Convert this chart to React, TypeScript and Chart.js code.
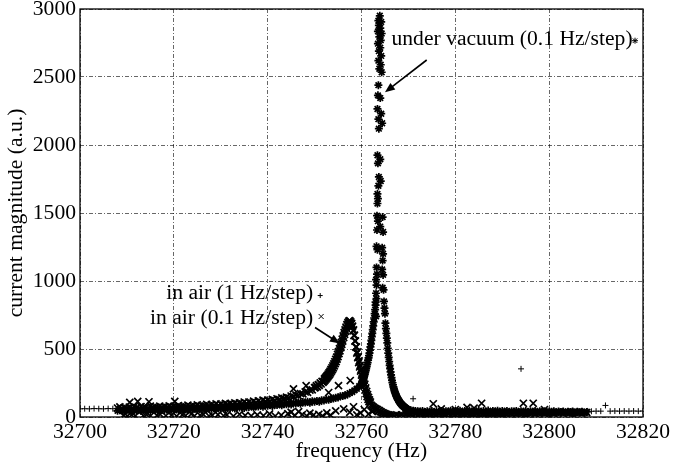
import React, { useEffect, useRef } from "react";
import { Chart, registerables } from "chart.js";

Chart.register(...registerables);

// ---- axis ticks ----
const xTicks = [32700, 32720, 32740, 32760, 32780, 32800, 32820];
const yTicks = [0, 500, 1000, 1500, 2000, 2500, 3000];

// ---- in air, 1 Hz/step (+) : 32700 .. 32820 ----
const air1Start = 32700;
const air1Step = 1;
const air1Values = [
  60, 61, 60, 62, 61, 60, 62, 61, 63, 64,
  66, 67, 68, 68, 69, 70, 71, 72, 73, 75,
  76, 77, 79, 80, 81, 83, 84, 86, 88, 89,
  91, 93, 95, 98, 100, 103, 106, 109, 112, 115,
  119, 124, 128, 134, 140, 148, 158, 170, 185, 200,
  218, 242, 270, 308, 365, 450, 570, 675, 672, 482,
  318, 182, 92, 57, 36, 21, 12, 13, 14, 15,
  16, 134, 17, 18, 18, 19, 19, 20, 20, 21,
  21, 22, 22, 23, 23, 24, 24, 25, 25, 26,
  26, 27, 27, 28, 354, 28, 29, 29, 30, 30,
  31, 32, 33, 34, 36, 37, 38, 39, 41, 42,
  43, 43, 85, 43, 44, 43, 44, 43, 44, 43,
  44,
];

// ---- in air, 0.1 Hz/step (x) ----
const airLeftStart = 32708;
const airLeftStep = 0.5;
const airLeftValues = [
  66, 74, 58, 70, 64, 72, 60, 75,
  69, 62, 77, 66, 72, 64, 79, 68,
  74, 66, 80, 70, 76, 68, 82, 72,
  78, 70, 84, 74, 80, 73, 87, 77,
  82, 75, 89, 79, 86, 78, 92, 82,
  90, 82, 96, 86, 94, 86, 100, 90,
  98, 91, 104, 95, 104, 96, 110, 100,
  110, 102, 116, 106, 118, 110, 124, 114,
  124, 117, 130, 123, 134, 128, 141, 136,
  146, 140, 154, 150, 162, 158, 172, 170,
  184, 182, 198, 200, 215,
];
const airRiseStart = 32750.2;
const airRiseStep = 0.2;
const airRiseValues = [218, 230, 222, 238, 233, 250, 243, 262, 255];
const airPeakStart = 32752.0;
const airPeakStep = 0.1;
const airPeakValues = [
  262, 280, 270, 288, 278, 296, 286, 306, 295, 316,
  304, 326, 314, 337, 325, 350, 337, 362, 349, 376,
  361, 390, 376, 406, 392, 423, 408, 440, 426, 460,
  444, 480, 466, 502, 487, 524, 510, 548, 534, 572,
  558, 596, 584, 620, 608, 640, 630, 660, 652, 680,
  672, 694, 684, 705, 692, 708, 690, 700, 680, 688,
  662, 668, 634, 640, 598, 602, 558, 560, 514, 516,
  470, 478, 436, 444, 400, 412, 368, 380, 338, 350,
  308, 322, 282, 296, 255, 270, 228, 242, 200, 214,
  172, 188, 150, 164, 130, 144, 114, 126, 100, 110,
  88,
];
const airDropStart = 32762.2;
const airDropStep = 0.2;
const airDropValues = [81, 75, 70, 63, 62, 56, 55, 47, 47, 39, 38, 31, 30, 24, 24, 18, 19, 14, 15, 12];
const airRightStart = 32766.5;
const airRightStep = 0.5;
const airRightValues = [
  12, 8, 16, 10, 15, 9, 17, 12,
  16, 10, 19, 13, 18, 12, 21, 15,
  19, 13, 22, 16, 21, 15, 24, 18,
  22, 16, 25, 19, 24, 18, 27, 21,
  25, 19, 28, 22, 26, 20, 29, 23,
  27, 21, 30, 24, 28, 22, 31, 25,
  29, 23, 32, 26, 30, 24, 33, 27,
  31, 25, 34, 28, 32, 26, 34, 29,
  32, 27, 35, 30, 33, 28, 36, 31,
  34, 29, 37, 31, 35, 30, 37, 32,
  35, 30, 37, 33,
];
// scattered readings of the same sweep (x markers off the main band)
const airScatterFreq = [
  32709.3, 32710.1, 32711.0, 32711.8, 32713.5, 32714.2, 32715.0, 32716.4, 32717.1, 32718.3,
  32719.5, 32720.6, 32721.8, 32722.5, 32723.7, 32724.4, 32725.6, 32726.3, 32727.5, 32728.2,
  32729.4, 32730.6, 32731.3, 32732.7, 32734.0, 32735.2, 32736.5, 32737.8, 32739.1, 32740.4,
  32741.6, 32742.9, 32744.3, 32745.0, 32745.8, 32746.6, 32747.4, 32748.3, 32749.0, 32749.8,
  32750.9, 32751.7, 32752.6, 32753.4, 32754.5, 32756.2, 32757.5, 32758.3, 32759.0, 32759.8,
  32760.6, 32761.5, 32762.3,
  32710.6, 32712.3, 32714.7, 32720.2, 32745.5, 32748.2, 32755.1, 32757.6, 32753.0,
  32770.5, 32775.3, 32777.0, 32780.0, 32782.5, 32785.6, 32784.0, 32794.5, 32796.6, 32799.0,
  32790.0, 32795.0, 32800.2, 32805.0,
];
const airScatterValues = [
  12, 6, 15, 8, 10, 18, 7, 12, 20, 9,
  14, 6, 16, 10, 22, 8, 13, 19, 7, 12,
  17, 9, 15, 6, 20, 11, 8, 16, 10, 22,
  7, 14, 25, 35, 12, 40, 18, 9, 28, 15,
  20, 8, 30, 14, 45, 60, 35, 75, 15, 30,
  55, 22, 40,
  108, 114, 112, 114, 207, 230, 231, 268, 180,
  45, 97, 60, 55, 70, 101, 65, 101, 101, 55,
  3, 5, 2, 4,
];

// ---- under vacuum, 0.1 Hz/step (*) ----
const vacLeftStart = 32708;
const vacLeftStep = 0.5;
const vacLeftValues = [
  46, 54, 42, 50, 47, 55, 43, 52,
  48, 56, 44, 53, 49, 57, 45, 54,
  50, 58, 46, 55, 51, 59, 47, 56,
  53, 60, 49, 58, 54, 62, 50, 60,
  56, 64, 52, 62, 58, 66, 54, 64,
  60, 68, 56, 67, 63, 71, 59, 70,
  66, 74, 62, 73, 70, 78, 66, 78,
  74, 82, 70, 82, 78, 86, 75, 86,
  82, 90, 80, 92, 88, 96, 86, 98,
  94, 102, 92, 104, 100, 107, 98, 110,
  106, 112, 104, 116, 112, 118, 112, 124,
  122, 128, 126, 134, 136, 142, 144, 152,
  154, 160, 166, 176, 184, 196, 208, 226,
  245,
];
const vacRiseStart = 32760.1;
const vacRiseStep = 0.1;
const vacRiseValues = [
  252, 262, 270, 281, 290, 303, 314, 328, 340, 356,
  370, 386, 400, 418, 435, 452, 470, 492, 515, 538,
  563, 590, 615, 642, 670, 700, 728, 760, 790, 822,
];
const vacSpikeFreq = [
  32763.6, 32763.9, 32764.2, 32763.7, 32764.0, 32763.5, 32764.3, 32763.8, 32764.1,
  32763.5, 32764.0, 32763.7, 32764.2, 32763.6, 32764.1, 32763.8, 32764.3,
  32763.6, 32763.5, 32764.0,
  32763.4, 32764.2, 32763.6, 32764.4, 32763.7,
  32763.4, 32764.0, 32763.5,
  32763.7, 32764.1, 32763.6,
  32763.4, 32763.5, 32763.4,
  32763.3, 32764.5, 32763.5, 32764.0, 32763.3, 32764.6,
  32763.2, 32763.4, 32764.4, 32764.6, 32764.5,
  32763.2, 32764.4, 32763.3, 32764.6,
  32763.1, 32763.2, 32764.5, 32764.7,
  32763.1, 32763.2, 32764.8, 32764.9, 32763.0, 32765.0, 32763.1,
];
const vacSpikeValues = [
  2914, 2950, 2905, 2880, 2860, 2835, 2820, 2795, 2770,
  2745, 2715, 2690, 2655, 2620, 2590, 2560, 2535,
  2440, 2365, 2345,
  2265, 2230, 2190, 2160, 2120,
  1925, 1895, 1865,
  1765, 1735, 1700,
  1640, 1605, 1570,
  1480, 1470, 1440, 1400, 1375, 1360,
  1255, 1230, 1245, 1200, 1150,
  1100, 1085, 1050, 1045,
  1010, 970, 950, 935,
  910, 870, 850, 800, 845, 760, 740,
];
const vacFallStart = 32765.1;
const vacFallStep = 0.1;
const vacFallValues = [
  690, 650, 615, 580, 545, 505, 470, 438, 408, 380,
  355, 332, 310, 290, 270, 252, 237, 222, 208, 196,
  185, 175, 166, 157, 149, 142, 135, 129, 123, 117,
  112, 107, 102, 98, 94, 90, 86, 83, 80, 77,
  74, 71, 68, 66, 63, 61, 58, 56, 54, 52,
];
const vacRightStart = 32770.5;
const vacRightStep = 0.5;
const vacRightValues = [
  49, 46, 44, 42, 41, 45, 36, 43,
  39, 44, 35, 42, 38, 45, 36, 43,
  40, 46, 37, 44, 39, 46, 36, 44,
  41, 47, 37, 45, 40, 46, 36, 44,
  40, 47, 37, 45, 41, 46, 36, 44,
  39, 45, 35, 43, 40, 45, 35, 43,
  38, 44, 34, 42, 39, 44, 34, 42,
  37, 43, 33, 41, 38, 42, 33, 40,
  36, 41, 32, 39, 37, 40, 31, 38,
  35, 39, 31, 37,
];

const FONT = '"Liberation Serif", "Times New Roman", serif';
const FONT_SIZE = 21.6;

const sweep = (start: number, step: number, vals: number[]) =>
  vals.map((v, i) => ({ x: +(start + i * step).toFixed(2), y: v }));
const pairs = (fs: number[], vs: number[]) => fs.map((f, i) => ({ x: f, y: vs[i] }));

const annotationPlugin = {
  id: "annot",
  afterDraw(chart: any) {
    const { ctx, chartArea } = chart;
    const xs = chart.scales.x;
    const ys = chart.scales.y;
    const px = (f: number) => xs.getPixelForValue(f);
    const py = (v: number) => ys.getPixelForValue(v);
    ctx.save();
    ctx.strokeStyle = "#000";
    ctx.lineWidth = 1.3;
    ctx.strokeRect(chartArea.left, chartArea.top, chartArea.right - chartArea.left, chartArea.bottom - chartArea.top);

    ctx.fillStyle = "#000";
    ctx.font = `${FONT_SIZE}px ${FONT}`;
    ctx.textBaseline = "middle";
    ctx.textAlign = "left";
    ctx.fillText("under vacuum (0.1 Hz/step)", px(32766.4), py(2780));
    ctx.textAlign = "right";
    ctx.fillText("in air (1 Hz/step)", px(32749.7), py(908));
    ctx.fillText("in air (0.1 Hz/step)", px(32749.7), py(724));

    ctx.lineWidth = 1;
    const mk = (kind: string, cx: number, cy: number, r: number) => {
      ctx.beginPath();
      if (kind === "+" || kind === "*") {
        ctx.moveTo(cx - r, cy); ctx.lineTo(cx + r, cy);
        ctx.moveTo(cx, cy - r); ctx.lineTo(cx, cy + r);
      }
      if (kind === "x" || kind === "*") {
        const d = kind === "*" ? r * 0.75 : r;
        ctx.moveTo(cx - d, cy - d); ctx.lineTo(cx + d, cy + d);
        ctx.moveTo(cx - d, cy + d); ctx.lineTo(cx + d, cy - d);
      }
      ctx.stroke();
    };
    mk("*", px(32818.3), py(2767), 3);
    mk("+", px(32751.2), py(893), 2.5);
    mk("x", px(32751.4), py(739), 2.5);

    const arrow = (f1: number, v1: number, f2: number, v2: number) => {
      const x1 = px(f1), y1 = py(v1), x2 = px(f2), y2 = py(v2);
      const a = Math.atan2(y2 - y1, x2 - x1);
      const L = 10, W = 4;
      ctx.lineWidth = 1.6;
      ctx.beginPath();
      ctx.moveTo(x1, y1);
      ctx.lineTo(x2 - Math.cos(a) * L * 0.8, y2 - Math.sin(a) * L * 0.8);
      ctx.stroke();
      ctx.beginPath();
      ctx.moveTo(x2, y2);
      ctx.lineTo(x2 - Math.cos(a) * L - Math.sin(a) * W, y2 - Math.sin(a) * L + Math.cos(a) * W);
      ctx.lineTo(x2 - Math.cos(a) * L + Math.sin(a) * W, y2 - Math.sin(a) * L - Math.cos(a) * W);
      ctx.closePath();
      ctx.fill();
    };
    arrow(32773.9, 2625, 32765.0, 2387);
    arrow(32750.1, 658, 32755.4, 540);
    ctx.restore();
  },
};

export default function App() {
  const ref = useRef<HTMLCanvasElement | null>(null);
  useEffect(() => {
    if (!ref.current) return;
    const font = { family: FONT, size: FONT_SIZE };
    const grid = { color: "rgba(0,0,0,0.75)", lineWidth: 0.8, drawTicks: false };
    const border = { display: false, dash: [4, 2, 1, 2] };
    const pointBase = { showLine: false, pointBorderColor: "#000", pointBackgroundColor: "rgba(0,0,0,0)", pointBorderWidth: 1.7 };
    const chart = new Chart(ref.current, {
      type: "scatter",
      data: {
        datasets: [
          { label: "under vacuum (0.1 Hz/step)", ...pointBase, pointStyle: "star", pointRadius: 4,
            data: [
              ...sweep(vacLeftStart, vacLeftStep, vacLeftValues),
              ...sweep(vacRiseStart, vacRiseStep, vacRiseValues),
              ...pairs(vacSpikeFreq, vacSpikeValues),
              ...sweep(vacFallStart, vacFallStep, vacFallValues),
              ...sweep(vacRightStart, vacRightStep, vacRightValues),
            ] },
          { label: "in air (0.1 Hz/step)", ...pointBase, pointStyle: "crossRot", pointRadius: 5,
            data: [
              ...sweep(airLeftStart, airLeftStep, airLeftValues),
              ...sweep(airRiseStart, airRiseStep, airRiseValues),
              ...sweep(airPeakStart, airPeakStep, airPeakValues),
              ...sweep(airDropStart, airDropStep, airDropValues),
              ...sweep(airRightStart, airRightStep, airRightValues),
              ...pairs(airScatterFreq, airScatterValues),
            ] },
          { label: "in air (1 Hz/step)", ...pointBase, pointStyle: "cross", pointRadius: 3, pointBorderWidth: 1,
            data: sweep(air1Start, air1Step, air1Values) },
        ],
      } as any,
      options: {
        animation: false,
        responsive: true,
        maintainAspectRatio: false,
        layout: { padding: { top: 9, right: 51, left: 0, bottom: 0 } },
        plugins: { legend: { display: false }, tooltip: { enabled: false } },
        scales: {
          x: {
            type: "linear",
            min: xTicks[0],
            max: xTicks[xTicks.length - 1],
            afterBuildTicks: (s: any) => { s.ticks = xTicks.map((v) => ({ value: v })); },
            ticks: { font, color: "#000", padding: 2, maxRotation: 0, autoSkip: false, callback: (v: any) => String(v) },
            grid,
            border,
            title: { display: true, text: "frequency (Hz)", font, color: "#000", padding: { top: 0, bottom: 8 } },
            afterFit: (s: any) => { s.height = 55; },
          },
          y: {
            type: "linear",
            min: yTicks[0],
            max: yTicks[yTicks.length - 1],
            afterBuildTicks: (s: any) => { s.ticks = yTicks.map((v) => ({ value: v })); },
            ticks: { font, color: "#000", padding: 4, autoSkip: false, callback: (v: any) => String(v) },
            grid,
            border,
            title: { display: true, text: "current magnitude (a.u.)", font, color: "#000", padding: { top: 3, bottom: 0 } },
            afterFit: (s: any) => { s.width = 80; s.paddingTop = 0; s.paddingBottom = 0; },
          },
        },
      } as any,
      plugins: [annotationPlugin],
    });
    return () => chart.destroy();
  }, []);
  return (
    <div style={{ position: "fixed", left: 0, top: 0, width: 694, height: 472, background: "#fff" }}>
      <canvas ref={ref} />
    </div>
  );
}
